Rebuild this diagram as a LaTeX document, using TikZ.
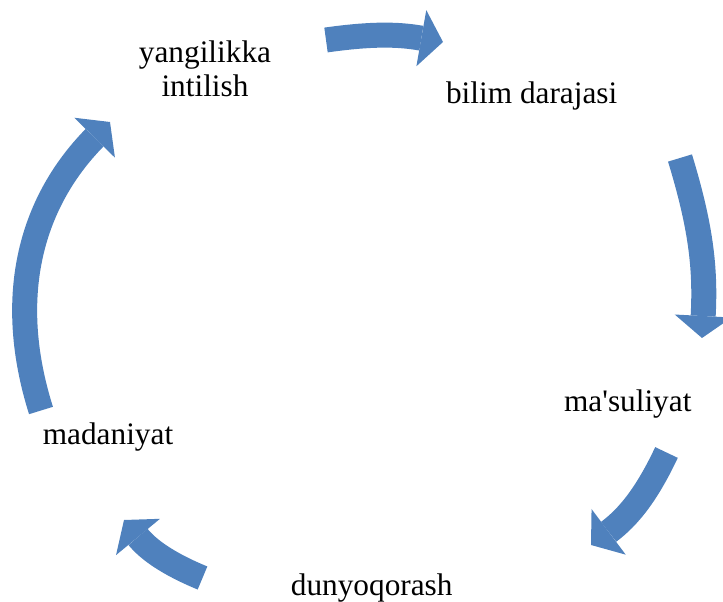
\documentclass[tikz,border=0pt]{standalone}
\usepackage{fontspec}
\setmainfont{Liberation Serif}
\usepackage{tikz}
\usetikzlibrary{arrows.meta, positioning}
\definecolor{cycblue}{RGB}{79,129,189}

\begin{document}
\begin{tikzpicture}[x=1pt, y=1pt, every node/.style={inner sep=0pt, align=center, font=\fontsize{31.3}{33.7}\selectfont}, cyc/.style={draw=cycblue, line width=25pt, -{Triangle[length=22pt, width=57pt, line width=0pt]}}]
\useasboundingbox (0,0) rectangle (723,602);
% Nodes
\node (yangi) [anchor=base] at (205,505.3) {yangilikka\\intilish};
\node (bilim) [anchor=base] at (531.7,498.7) {bilim darajasi};
\node (masul) [anchor=base] at (627.8,190.3) {ma\textquotesingle suliyat};
\node (dunyo) [anchor=base] at (371.7,6) {dunyoqorash};
\node (madan) [anchor=base] at (108,157) {madaniyat};

% Arrow ends
\coordinate (t1) at (326,562);   \coordinate (h1) at (443,560);
\coordinate (t2) at (680,444);   \coordinate (h2) at (702,264);
\coordinate (t3) at (666.5,149.5); \coordinate (h3) at (591,57);
\coordinate (t4) at (202.5,24);  \coordinate (h4) at (124,82);
\coordinate (t5) at (41,191.5);  \coordinate (h5) at (110,480);

% Edges
\draw[cyc] (t1) to[bend left=9] (h1);
\draw[cyc] (t2) to[bend left=10] (h2);
\draw[cyc] (t3) to[bend left=14] (h3);
\draw[cyc] (t4) to[bend left=14] (h4);
\draw[cyc] (t5) to[bend left=31] (h5);
\end{tikzpicture}
\end{document}
